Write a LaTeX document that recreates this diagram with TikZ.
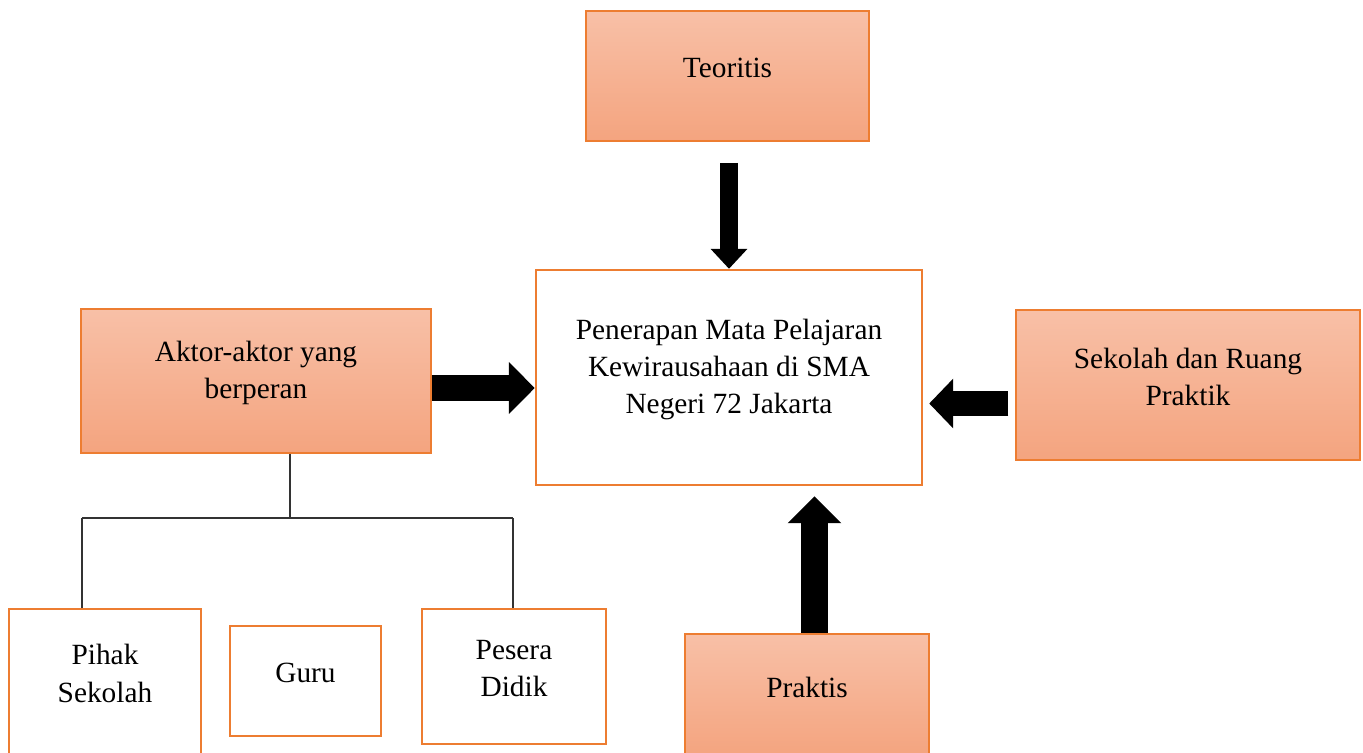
\documentclass[tikz,border=0pt]{standalone}
\usepackage{fontspec}
\setmainfont{Liberation Serif}
\usetikzlibrary{arrows.meta}
\definecolor{orline}{HTML}{ED7D31}
\definecolor{ortop}{HTML}{F8C0A7}
\definecolor{orbot}{HTML}{F4A47F}
\begin{document}
\begin{tikzpicture}[x=0.02cm,y=-0.02cm,
    lbl/.style={align=center,font=\fontsize{16.7}{21.3}\selectfont,yshift=0.16cm},
    obox/.style={draw=orline,line width=0.9pt,top color=ortop,bottom color=orbot,label={[lbl]center:#1}},
    wbox/.style={draw=orline,line width=1.5pt,fill=white,label={[lbl]center:#1}},
    fat/.style n args={3}{line width=#1,-{Triangle[length=#2,width=#3,line width=0pt]}},
    tree/.style={draw=black!80,line width=0.8pt}]
    \useasboundingbox (0,0) rectangle (1363,752);
    \node[obox={Teoritis},minimum width=5.66cm,minimum height=2.6cm] (teo) at (727.5,76) {};
    \node[wbox={Penerapan Mata Pelajaran\\Kewirausahaan di SMA\\Negeri 72 Jakarta},minimum width=7.72cm,minimum height=4.3cm] (main) at (729,377.5) {};
    \node[obox={Aktor-aktor yang\\berperan},minimum width=7cm,minimum height=2.88cm] (akt) at (256,381) {};
    \node[obox={Sekolah dan Ruang\\Praktik},minimum width=6.88cm,minimum height=3cm] (sek) at (1188,385) {};
    \node[obox={Praktis},minimum width=4.88cm,minimum height=2.44cm] (prak) at (807,695) {};
    \node[wbox={Pihak\\Sekolah},minimum width=3.84cm,minimum height=2.9cm] (pih) at (105,681.5) {};
    \node[wbox={Guru},minimum width=3.02cm,minimum height=2.2cm] (guru) at (305.5,681) {};
    \node[wbox={Pesera\\Didik},minimum width=3.68cm,minimum height=2.7cm] (pes) at (514,676.5) {};
    %%
    \draw[fat={10.2pt}{11.3pt}{21pt},shorten <=0.42cm] (teo.south -| main.north) -- (main.north);
    \draw[fat={14.7pt}{14.7pt}{29.5pt}] ([yshift=-0.14cm]akt.east) -- ([yshift=-0.14cm]akt.east -| main.west);
    \draw[fat={14.2pt}{13.6pt}{28.3pt},shorten <=0.14cm,shorten >=0.12cm] ([yshift=-0.37cm]sek.west) -- ([yshift=-0.37cm]sek.west -| main.east);
    \draw[fat={15.3pt}{15.3pt}{30.6pt},shorten >=0.2cm] ([xshift=0.15cm]prak.north) -- ([xshift=0.15cm]prak.north |- main.south);
    %%
    \coordinate (jn) at (290,518);
    \coordinate (brL) at (82,518);
    \coordinate (brR) at (513,518);
    \draw[tree] (akt.south -| jn) -- (jn);
    \draw[tree] (brL) -- (brR);
    \draw[tree] (brL) -- (brL |- pih.north);
    \draw[tree] (brR) -- (brR |- pes.north);
\end{tikzpicture}
\end{document}
